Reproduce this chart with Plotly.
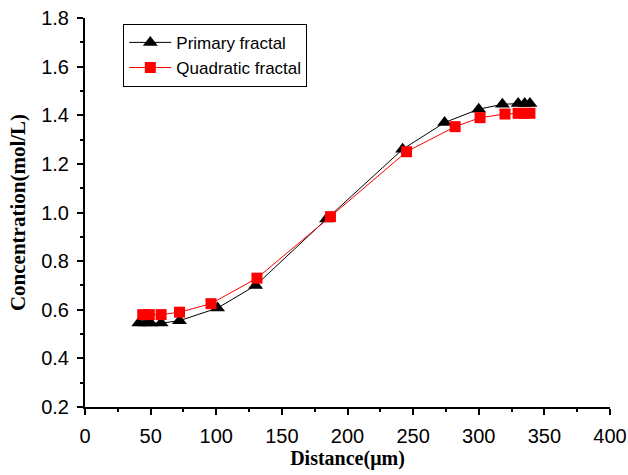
import plotly.graph_objects as go

primary_x = [41, 46, 50, 58, 72, 101, 130, 184, 242, 274, 300, 318, 330, 335, 339]
primary_y = [0.545, 0.545, 0.545, 0.545, 0.555, 0.607, 0.70, 0.973, 1.26, 1.37, 1.425, 1.445, 1.448, 1.448, 1.448]
quad_x = [44, 49, 58, 72, 96, 131, 187, 245, 282, 301, 320, 330, 335, 339]
quad_y = [0.58, 0.58, 0.58, 0.59, 0.625, 0.73, 0.983, 1.25, 1.353, 1.39, 1.405, 1.408, 1.408, 1.408]

fig = go.Figure()
fig.add_trace(go.Scatter(x=primary_x, y=primary_y, mode="lines+markers", name="Primary fractal",
                         line=dict(color="black", width=1),
                         marker=dict(symbol="triangle-up", size=13, color="black")))
fig.add_trace(go.Scatter(x=quad_x, y=quad_y, mode="lines+markers", name="Quadratic fractal",
                         line=dict(color="red", width=1),
                         marker=dict(symbol="square", size=11, color="red")))

axis_common = dict(showline=True, linecolor="black", linewidth=2, ticks="outside",
                   ticklen=6, tickwidth=2, tickcolor="black", showgrid=False, zeroline=False,
                   tickfont=dict(family="Liberation Sans, Arial", size=20, color="black"),
                   mirror=False, automargin=False, ticklabelstandoff=4)

fig.update_xaxes(range=[0, 400], dtick=50, tick0=0,
                 minor=dict(ticks="outside", ticklen=3, dtick=25, tickwidth=2, tickcolor="black", showgrid=False),
                 title=dict(text="Distance(μm)", standoff=4,
                            font=dict(family="Liberation Serif, Times New Roman", size=20, color="black",
                                      weight="bold")),
                 **axis_common)
fig.update_yaxes(range=[0.2, 1.8], dtick=0.2, tick0=0.2, tickformat=".1f",
                 minor=dict(ticks="outside", ticklen=3, dtick=0.1, tickwidth=2, tickcolor="black", showgrid=False),
                 title=dict(text="Concentration(mol/L)", standoff=10,
                            font=dict(family="Liberation Serif, Times New Roman", size=21, color="black",
                                      weight="bold")),
                 **axis_common)

fig.update_layout(width=628, height=475, margin=dict(l=85, r=18, t=18, b=68),
                  plot_bgcolor="white", paper_bgcolor="white",
                  legend=dict(x=0.073, y=0.985, xanchor="left", yanchor="top",
                              bordercolor="black", borderwidth=1, bgcolor="white",
                              font=dict(family="Liberation Sans, Arial", size=17, color="black"),
                              tracegroupgap=0, itemwidth=42),
                  showlegend=True)

fig.write_html("out.html", config={"displayModeBar": False},
               post_script="document.body.style.margin='0';document.body.style.overflow='hidden';")
